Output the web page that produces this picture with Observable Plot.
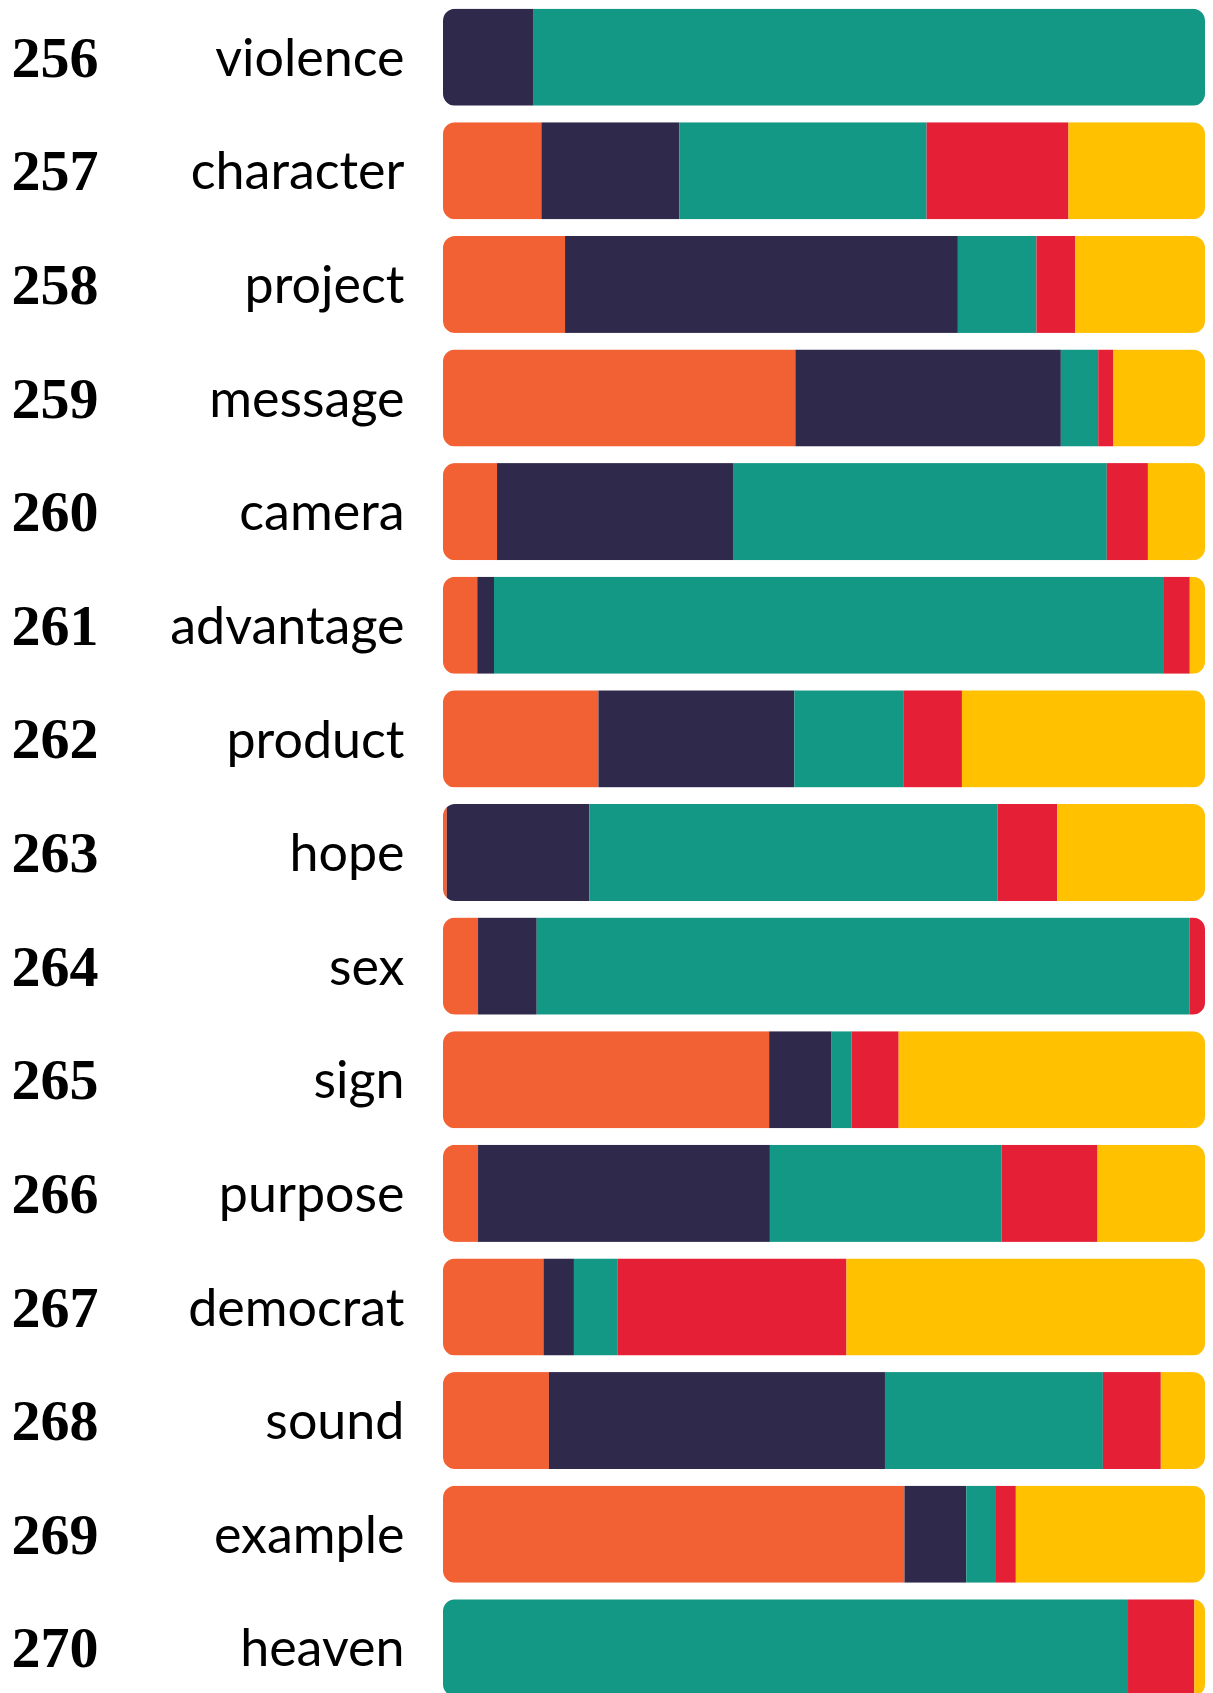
<!DOCTYPE html>
<html>
<head>
<meta charset="utf-8">
<script src="https://cdn.jsdelivr.net/npm/d3@7"></script>
<script src="https://cdn.jsdelivr.net/npm/@observablehq/plot@0.6"></script>
<style>
  html, body { margin: 0; padding: 0; background: #fff; overflow: hidden; }
  #chart svg { display: block; }
</style>
</head>
<body>
<div id="chart"></div>
<script>
const words = ["violence","character","project","message","camera","advantage","product","hope","sex","sign","purpose","democrat","sound","example","heaven"];
const ranks = [256,257,258,259,260,261,262,263,264,265,266,267,268,269,270];
const seriesNames = ["S1","S2","S3","S4","S5"];
const seriesColors = ["#F26134","#2F294C","#149886","#E41F36","#FFC100"];
const s1 = [0, 12.9, 16.0, 46.2, 7.1, 4.5, 20.4, 0.5, 4.6, 42.8, 4.6, 13.2, 13.9, 60.5, 0];
const s2 = [11.9, 18.1, 51.5, 34.8, 31.0, 2.2, 25.7, 18.7, 7.7, 8.2, 38.3, 4.0, 44.1, 8.1, 0];
const s3 = [88.1, 32.4, 10.3, 4.9, 49.1, 87.9, 14.3, 53.6, 85.7, 2.6, 30.4, 5.7, 28.6, 3.9, 89.9];
const s4 = [0, 18.6, 5.1, 2.0, 5.4, 3.5, 7.7, 7.8, 2.0, 6.2, 12.6, 30.1, 7.6, 2.6, 8.7];
const s5 = [0, 17.9, 17.0, 12.0, 7.5, 2.0, 31.9, 19.4, 0, 40.2, 14.1, 47.1, 5.8, 24.8, 1.4];

const seriesValues = [s1, s2, s3, s4, s5];
const table = [];
words.forEach((w, i) => {
  seriesNames.forEach((s, j) => {
    table.push({word: w, series: s, value: seriesValues[j][i]});
  });
});
const rankRows = words.map((w, i) => ({word: w, rank: String(ranks[i])}));

const plot = Plot.plot({
  width: 1213,
  height: 1693,
  marginLeft: 443,
  marginRight: 8,
  marginTop: 0,
  marginBottom: -12,
  style: {background: "#fff", overflow: "hidden"},
  x: {axis: null, domain: [0, 1]},
  y: {domain: words, paddingInner: 0.146, paddingOuter: 0.076, round: false, label: null},
  color: {domain: seriesNames, range: seriesColors},
  marks: [
    Plot.barX(table, Plot.stackX({x: "value", y: "word", fill: "series", offset: "normalize"})),
    Plot.axisY({tickSize: 0, tickPadding: 39, fontSize: 52, fontFamily: "Lato", fontWeight: 400, fill: "#000", dy: 1.5, label: null}),
    Plot.text(rankRows, {y: "word", text: "rank", frameAnchor: "left", textAnchor: "start", dx: -432, dy: 0.5, fontSize: 58, fontWeight: "bold", fontFamily: "Liberation Serif", fill: "#000"})
  ]
});

// Round the outer corners of each stacked row with a clip path built from the rendered bars
const svg = d3.select(plot);
const barGroup = svg.select('g[aria-label="bar"]');
const rows = new Map();
barGroup.selectAll("rect").each(function() {
  const r = d3.select(this);
  const y = +r.attr("y"), h = +r.attr("height");
  const x = +r.attr("x"), w = +r.attr("width");
  const key = y.toFixed(2);
  const cur = rows.get(key) || {y, h, x0: Infinity, x1: -Infinity};
  cur.x0 = Math.min(cur.x0, x);
  cur.x1 = Math.max(cur.x1, x + w);
  rows.set(key, cur);
});
const defs = svg.insert("defs", ":first-child");
const clip = defs.append("clipPath").attr("id", "rowclip");
for (const r of rows.values()) {
  clip.append("rect").attr("x", r.x0).attr("y", r.y).attr("width", r.x1 - r.x0).attr("height", r.h).attr("rx", 12).attr("ry", 12);
}
barGroup.attr("clip-path", "url(#rowclip)");

document.getElementById("chart").appendChild(plot);
</script>
</body>
</html>
